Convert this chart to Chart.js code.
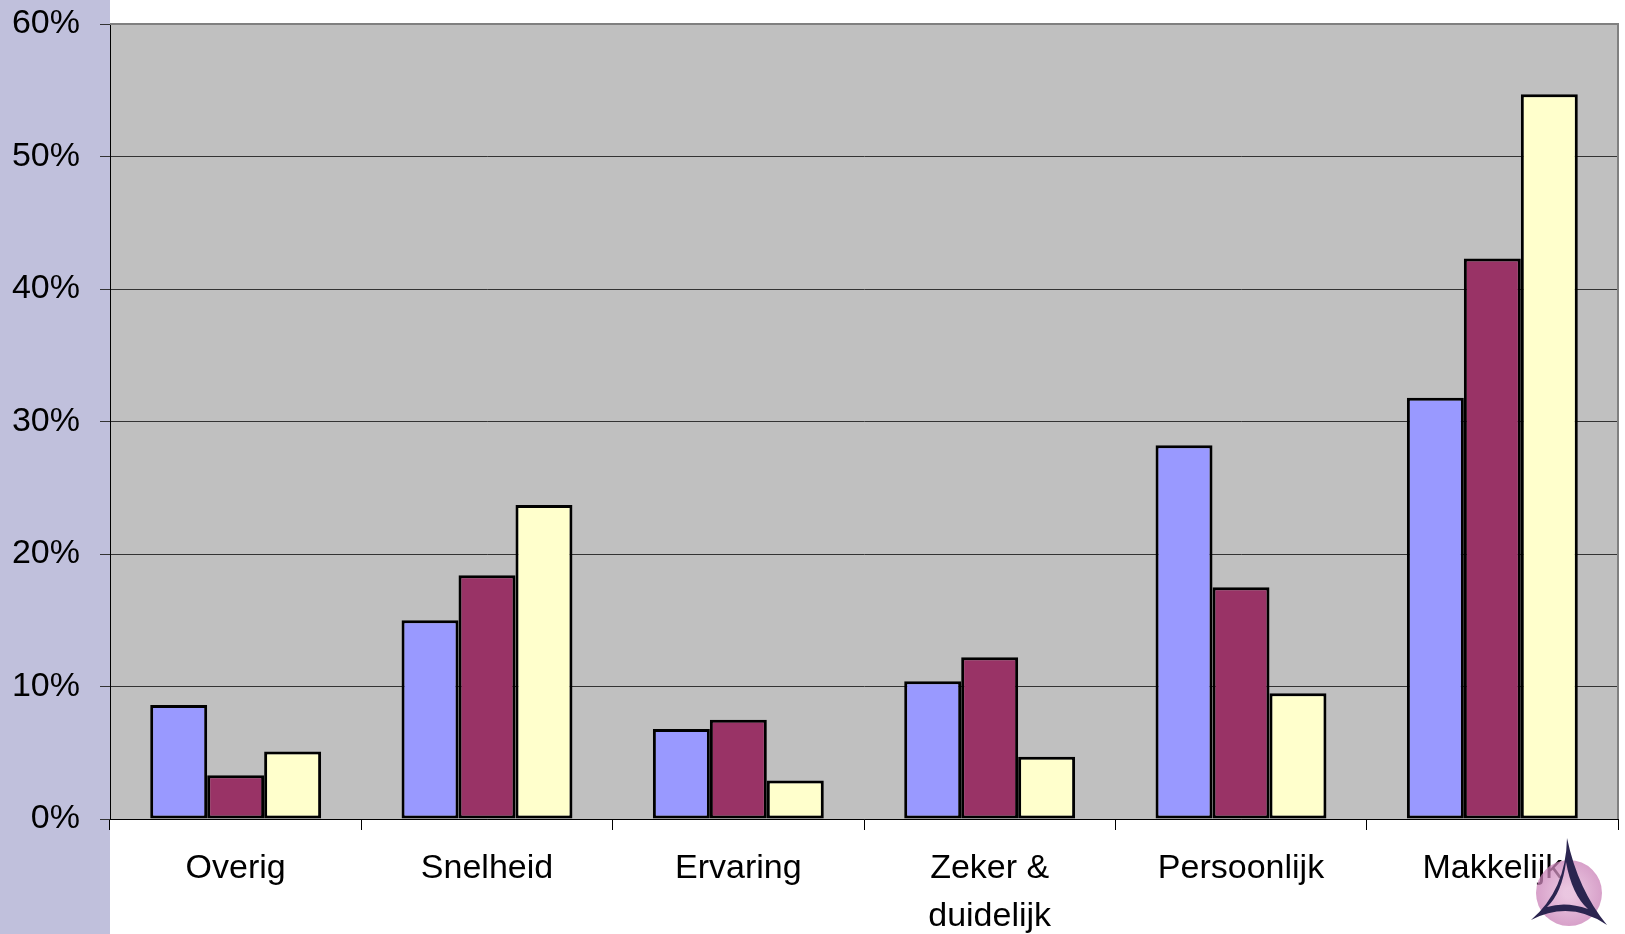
<!DOCTYPE html>
<html>
<head>
<meta charset="utf-8">
<script src="https://cdn.jsdelivr.net/npm/chart.js@4/dist/chart.umd.min.js"></script>
<style>
  html, body { margin: 0; padding: 0; background: #fff; }
  #wrap { width: 1625px; height: 934px; position: relative; }
</style>
</head>
<body>
<div id="wrap"><canvas id="chart"></canvas></div>
<script>
// categories and values (percent)
const categories = ['Overig', 'Snelheid', 'Ervaring', ['Zeker &', 'duidelijk'], 'Persoonlijk', 'Makkelijk'];
const serieBlauw = [8.6, 15.0, 6.8, 10.4, 28.2, 31.8];
const serieRood = [3.3, 18.4, 7.5, 12.2, 17.5, 42.3];
const serieGeel = [5.1, 23.7, 2.9, 4.7, 9.5, 54.7];
const yTicks = [0, 10, 20, 30, 40, 50, 60];

// lavender strip, grey plot area, border and the logo
const achtergrond = {
    id: 'achtergrond',
    beforeDraw(chart) {
        const { ctx, chartArea } = chart;
        ctx.save();
        ctx.fillStyle = '#c0c0dc';
        ctx.fillRect(0, 0, chartArea.left, chart.height);
        ctx.fillStyle = '#c0c0c0';
        ctx.fillRect(chartArea.left, chartArea.top, chartArea.right - chartArea.left, chartArea.bottom - chartArea.top);
        ctx.restore();
    },
    afterDatasetsDraw(chart) {
        const { ctx, chartArea } = chart;
        ctx.save();
        ctx.strokeStyle = '#808080';
        ctx.lineWidth = 2;
        ctx.beginPath();
        ctx.moveTo(chartArea.left, chartArea.top);
        ctx.lineTo(chartArea.right, chartArea.top);
        ctx.lineTo(chartArea.right, chartArea.bottom);
        ctx.stroke();
        ctx.restore();
    },
    afterDraw(chart) {
        // small logo bottom right
        const ctx = chart.ctx;
        ctx.save();
        ctx.globalAlpha = 0.75;
        let grad = ctx.createRadialGradient(1569, 893, 5, 1569, 893, 34);
        grad.addColorStop(0, '#e3b3d6');
        grad.addColorStop(1, '#c97fb6');
        ctx.fillStyle = grad;
        ctx.beginPath();
        ctx.arc(1569, 893, 33, 0, Math.PI * 2);
        ctx.fill();
        ctx.globalAlpha = 1;
        ctx.fillStyle = '#2b2550';
        ctx.beginPath();
        ctx.moveTo(1567, 838);
        ctx.quadraticCurveTo(1566, 890, 1531, 920);
        ctx.quadraticCurveTo(1570, 900, 1607, 925);
        ctx.quadraticCurveTo(1578, 890, 1567, 838);
        ctx.closePath();
        ctx.moveTo(1566, 862);
        ctx.quadraticCurveTo(1572, 895, 1588, 909);
        ctx.quadraticCurveTo(1566, 901, 1547, 907);
        ctx.quadraticCurveTo(1562, 893, 1566, 862);
        ctx.closePath();
        ctx.fill('evenodd');
        ctx.restore();
    }
};

new Chart(document.getElementById('chart'), {
    type: 'bar',
    data: {
        labels: categories,
        datasets: [
            { label: 'Serie 1', data: serieBlauw, backgroundColor: '#9999ff' },
            { label: 'Serie 2', data: serieRood, backgroundColor: '#993366' },
            { label: 'Serie 3', data: serieGeel, backgroundColor: '#ffffcc' }
        ]
    },
    options: {
        responsive: true,
        maintainAspectRatio: false,
        animation: false,
        layout: { padding: { top: 24, right: 7, left: 0, bottom: 0 } },
        datasets: {
            bar: {
                borderColor: '#000',
                borderWidth: 3,
                borderSkipped: false,
                categoryPercentage: 0.68,
                barPercentage: 1.0
            }
        },
        plugins: {
            legend: { display: false },
            tooltip: { enabled: false }
        },
        scales: {
            x: {
                afterFit: s => { s.height = 115; s.paddingLeft = 0; s.paddingRight = 0; },
                grid: {
                    offset: true,
                    drawOnChartArea: false,
                    color: '#000',
                    tickLength: 11,
                    lineWidth: 1
                },
                border: { color: '#000', width: 1 },
                ticks: {
                    color: '#000',
                    padding: 14,
                    maxRotation: 0,
                    autoSkip: false,
                    font: { family: 'Liberation Sans, Arial, sans-serif', size: 34, lineHeight: 1.42 }
                }
            },
            y: {
                min: 0,
                max: 60,
                afterFit: s => { s.width = 110; s.paddingTop = 0; s.paddingBottom = 0; },
                afterBuildTicks: s => { s.ticks = yTicks.map(v => ({ value: v })); },
                grid: {
                    color: '#333',
                    lineWidth: 1,
                    tickLength: 10
                },
                border: { color: '#000', width: 1 },
                ticks: {
                    color: '#000',
                    padding: 20,
                    font: { family: 'Liberation Sans, Arial, sans-serif', size: 34 },
                    callback: v => v + '%'
                }
            }
        }
    },
    plugins: [achtergrond]
});
</script>
</body>
</html>
